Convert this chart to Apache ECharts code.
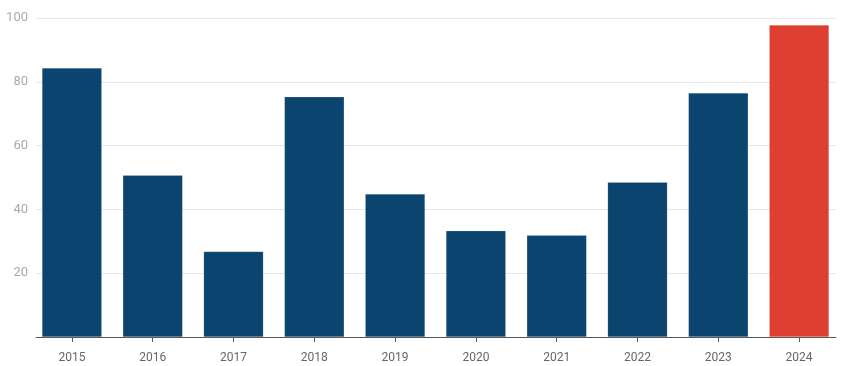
<!DOCTYPE html>
<html><head><meta charset="utf-8">
<script src="https://cdn.jsdelivr.net/npm/echarts@6/dist/echarts.min.js"></script>
<style>html,body{margin:0;padding:0;background:#fff}#c{width:847px;height:366px}</style>
</head><body><div id="c"></div>
<script>
const years = ['2015','2016','2017','2018','2019','2020','2021','2022','2023','2024'];
const values = [84.3, 50.7, 26.8, 75.3, 44.8, 33.3, 31.9, 48.5, 76.5, 97.8];
const yTicks = [20, 40, 60, 80, 100];
const highlightYear = '2024';

const chart = echarts.init(document.getElementById('c'), null, {renderer:'canvas'});
chart.setOption({
  animation:false,
  grid:[
    {left:36, right:11, top:18, bottom:29, containLabel:false},
    {left:31.5, right:7.5, top:18, bottom:29, containLabel:false}
  ],
  xAxis:[
    {type:'category', gridIndex:0, data:years,
      axisLine:{lineStyle:{color:'#555', width:1}},
      axisTick:{show:false}, axisLabel:{show:false}},
    {type:'category', gridIndex:1, data:years,
      axisLine:{show:false},
      axisTick:{show:true, alignWithLabel:true, length:5, lineStyle:{color:'#555'}},
      axisLabel:{color:'#666', fontSize:12, fontFamily:'Roboto', margin:15}}
  ],
  yAxis:[
    {type:'value', gridIndex:0, min:0, max:100, interval:20,
      axisLine:{show:false}, axisTick:{show:false},
      splitLine:{lineStyle:{color:'#e6e6e6'}},
      axisLabel:{color:'#aaa', fontSize:13, fontFamily:'Roboto', margin:8,
        formatter:v=> yTicks.includes(v) ? String(v) : ''}},
    {type:'value', gridIndex:1, min:0, max:100, interval:20, show:false}
  ],
  series:[{type:'bar', xAxisIndex:1, yAxisIndex:1, barWidth:'74%', z:1,
    data: values.map((v,i)=>({value:v, itemStyle:{color: years[i]===highlightYear ? '#dd4033' : '#0b446e'}})),
    itemStyle:{borderColor:'rgba(255,255,255,0.3)', borderWidth:0.5}}]
});
</script></body></html>
